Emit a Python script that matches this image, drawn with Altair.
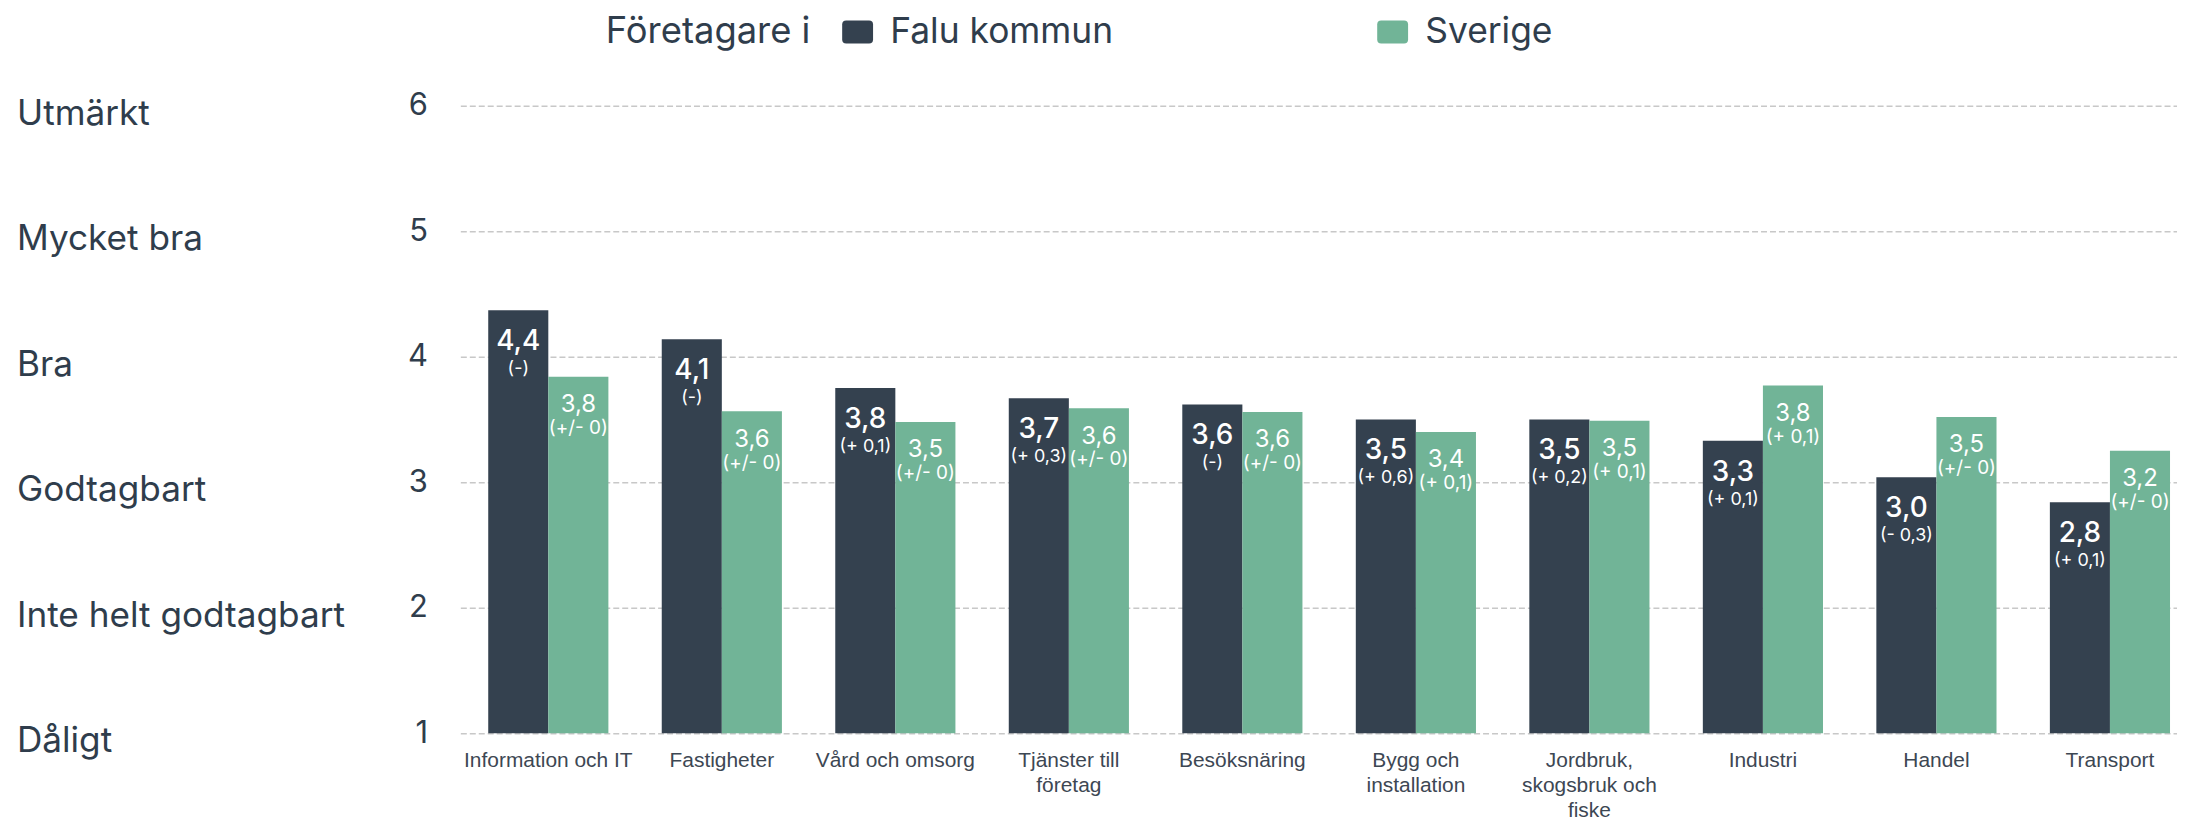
import altair as alt
import pandas as pd

categories = ["Information och IT", "Fastigheter", "Vård och omsorg", "Tjänster till företag",
              "Besöksnäring", "Bygg och installation", "Jordbruk, skogsbruk och fiske",
              "Industri", "Handel", "Transport"]
falu = [4.37, 4.14, 3.75, 3.67, 3.62, 3.50, 3.50, 3.33, 3.04, 2.84]
sverige = [3.84, 3.565, 3.48, 3.59, 3.56, 3.40, 3.49, 3.77, 3.52, 3.25]
falu_text = ["4,4", "4,1", "3,8", "3,7", "3,6", "3,5", "3,5", "3,3", "3,0", "2,8"]
falu_change = ["(-)", "(-)", "(+ 0,1)", "(+ 0,3)", "(-)", "(+ 0,6)", "(+ 0,2)", "(+ 0,1)", "(- 0,3)", "(+ 0,1)"]
sverige_text = ["3,8", "3,6", "3,5", "3,6", "3,6", "3,4", "3,5", "3,8", "3,5", "3,2"]
sverige_change = ["(+/- 0)", "(+/- 0)", "(+/- 0)", "(+/- 0)", "(+/- 0)", "(+ 0,1)", "(+ 0,1)", "(+ 0,1)", "(+/- 0)", "(+/- 0)"]
series = ["Falu kommun", "Sverige"]
colors = ["#34414f", "#71b497"]
levels = [1, 2, 3, 4, 5, 6]
level_names = ["Dåligt", "Inte helt godtagbart", "Godtagbart", "Bra", "Mycket bra", "Utmärkt"]
label_lines = {
    "Tjänster till företag": ["Tjänster till", "företag"],
    "Bygg och installation": ["Bygg och", "installation"],
    "Jordbruk, skogsbruk och fiske": ["Jordbruk,", "skogsbruk och", "fiske"],
}

rows = []
for i, c in enumerate(categories):
    rows.append(dict(cat=c, serie=series[0], value=falu[i], num=falu_text[i], change=falu_change[i]))
    rows.append(dict(cat=c, serie=series[1], value=sverige[i], num=sverige_text[i], change=sverige_change[i]))
df = pd.DataFrame(rows)
lev_df = pd.DataFrame({"value": levels, "name": level_names})

label_expr = ""
for k, v in label_lines.items():
    arr = "[" + ",".join("'" + s + "'" for s in v) + "]"
    label_expr += f"datum.value == '{k}' ? {arr} : "
label_expr += "datum.label"

TEXT = "#2f3d4c"
FONT = "Inter"

x_main = alt.X("cat:N", sort=categories, title=None,
               scale=alt.Scale(paddingInner=0.3075, paddingOuter=0.1005, align=0.8),
               axis=alt.Axis(labelExpr=label_expr, labelAngle=0, labelFont="Liberation Sans",
                             labelFontSize=21, labelColor="#3d4753", labelPadding=16,
                             labelLineHeight=25, ticks=False, domain=False, labelBaseline="top",
                             labelLimit=400, labelOverlap=False, grid=False))
x_plain = alt.X("cat:N", sort=categories, title=None)
xoff = alt.XOffset("serie:N", sort=series, scale=alt.Scale(paddingInner=0, paddingOuter=0))

y_main = alt.Y("value:Q", title=None,
               scale=alt.Scale(domain=[1, 6], nice=False, zero=False),
               axis=alt.Axis(values=levels, format="d", labelFont=FONT, labelFontSize=31,
                             labelColor=TEXT, labelPadding=33, ticks=False, domain=False,
                             gridDash=[6, 3], gridColor="#c8c8c8", gridWidth=1.5))
y_plain = alt.Y("value:Q", title=None)

symbol_path = ("M-0.74,-0.742 L0.74,-0.742 Q1,-0.742 1,-0.48 L1,0.48 Q1,0.742 0.74,0.742 "
               "L-0.74,0.742 Q-1,0.742 -1,0.48 L-1,-0.48 Q-1,-0.742 -0.74,-0.742 Z")

bars = alt.Chart(df).mark_bar().encode(
    x=x_main,
    xOffset=xoff,
    y=y_main,
    y2=alt.datum(1),
    color=alt.Color("serie:N", scale=alt.Scale(domain=series, range=colors),
                    legend=alt.Legend(title="Företagare i", orient="none", legendX=146, legendY=-92,
                                      direction="horizontal", titleOrient="left", titleFont=FONT,
                                      titleFontSize=36.5, titleFontWeight="normal", titleColor=TEXT,
                                      titlePadding=29, titleLimit=1000, labelLimit=1000,
                                      labelFont=FONT, labelFontSize=35.5,
                                      labelColor=TEXT, labelOffset=15, columnPadding=262,
                                      symbolType=symbol_path, symbolSize=961, symbolStrokeWidth=0,
                                      symbolOpacity=1, titleBaseline="middle", titleAnchor="middle")),
)

def txt(serie, field, size, weight, dy):
    return alt.Chart(df).transform_filter(alt.datum.serie == serie).mark_text(
        font=FONT, fontSize=size, fontWeight=weight, color="white", baseline="alphabetic", dy=dy
    ).encode(x=x_plain, xOffset=xoff, y=y_plain, text=f"{field}:N")

levels_layer = alt.Chart(lev_df).mark_text(
    align="left", baseline="middle", font=FONT, fontSize=35.3, color=TEXT, dy=8
).encode(x=alt.value(-445), y=y_plain, text="name:N")

chart = alt.layer(
    bars,
    txt("Falu kommun", "num", 28, 500, 40),
    txt("Falu kommun", "change", 18, 400, 64),
    txt("Sverige", "num", 24, 400, 35.5),
    txt("Sverige", "change", 19, 400, 57.5),
    levels_layer,
).properties(
    width=1723, height=630,
    autosize=alt.AutoSizeParams(type="none"),
    padding={"left": 454, "top": 96.5, "right": 0, "bottom": 82.5},
    background="white",
).configure_view(stroke=None)

chart.save("out.html", embed_options={"renderer": "svg", "actions": False})
